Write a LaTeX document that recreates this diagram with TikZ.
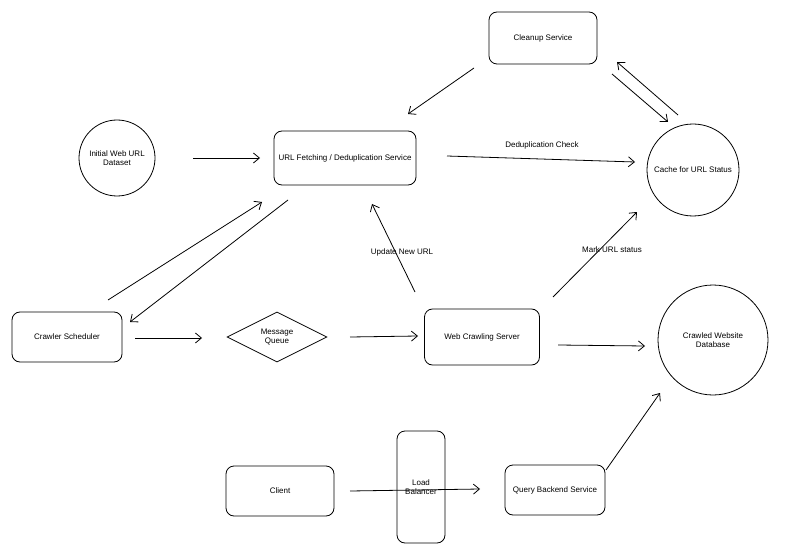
\documentclass[tikz,border=0pt]{standalone}
\usepackage{fontspec}
\setmainfont{Liberation Sans}
\usetikzlibrary{arrows.meta,shapes.geometric,positioning}

\begin{document}
\begin{tikzpicture}[x=1pt,y=-1pt,font=\fontsize{8}{9.5}\selectfont]

\tikzstyle{box}=[draw,thick,rounded corners=8pt,align=center]
\tikzstyle{ball}=[draw,thick,circle,align=center,inner sep=1pt]
\tikzstyle{flow}=[thick,-{Straight Barb[length=6pt,width=10pt]}]

\newcommand{\at}[3]{([shift={(#2,#3)}]#1.center)}

\useasboundingbox (0,0) rectangle (800,556);

% nodes
\node[box,minimum width=108pt,minimum height=52pt] (cleanup) at (543,38) {Cleanup Service};
\node[ball,minimum size=76pt] (initial) at (117,158) {Initial Web URL\\Dataset};
\node[box,minimum width=142pt,minimum height=54pt] (fetch) at (345,158) {URL Fetching / Deduplication Service};
\node[ball,minimum size=92pt] (cache) at (693,170) {Cache for URL Status};
\node[box,minimum width=110pt,minimum height=50pt] (sched) at (67,337) {Crawler Scheduler};
\node[draw,thick,diamond,aspect=2,minimum width=100pt,minimum height=50pt,align=center,inner sep=0pt] (queue) at (277,337) {Message\\Queue};
\node[box,minimum width=115pt,minimum height=56pt] (crawl) at (482,337) {Web Crawling Server};
\node[ball,minimum size=110pt] (db) at (713,340) {Crawled Website\\Database};
\node[box,minimum width=108pt,minimum height=50pt] (client) at (280,491) {Client};
\node[box,minimum width=48pt,minimum height=112pt,inner sep=0pt] (lb) at (421,487) {Load\\Balancer};
\node[box,minimum width=100pt,minimum height=50pt] (query) at (555,490) {Query Backend Service};

% connectors
\draw[flow] \at{cleanup}{-69}{30} -- \at{fetch}{63}{-44};
\draw[flow] \at{cleanup}{69}{36} -- \at{cache}{-25}{-48};
\draw[flow] \at{cache}{-15}{-55} -- \at{cleanup}{74}{24};
\draw[flow] \at{initial}{76}{0} -- \at{fetch}{-85}{0};
\draw[flow] \at{fetch}{102}{-2} -- \at{cache}{-58}{-8};
\draw[flow] \at{sched}{41}{-37} -- \at{fetch}{-83}{44};
\draw[flow] \at{fetch}{-57}{42} -- \at{sched}{63}{-15};
\draw[flow] \at{sched}{68}{1} -- \at{queue}{-75}{1};
\draw[flow] \at{queue}{73}{0} -- \at{crawl}{-64}{-1};
\draw[flow] \at{crawl}{-67}{-45} -- \at{fetch}{27}{46};
\draw[flow] \at{crawl}{71}{-40} -- \at{cache}{-56}{42};
\draw[flow] \at{crawl}{76}{8} -- \at{db}{-68}{6};
\draw[flow] \at{client}{70}{0} -- \at{query}{-75}{-1};
\draw[flow] \at{query}{51}{-20} -- \at{db}{-53}{53};

% labels
\node (dedup) at (542,145) {Deduplication Check};
\node (update) at (402,252) {Update New URL};
\node (mark) at (612,250) {Mark URL status};

\end{tikzpicture}
\end{document}
